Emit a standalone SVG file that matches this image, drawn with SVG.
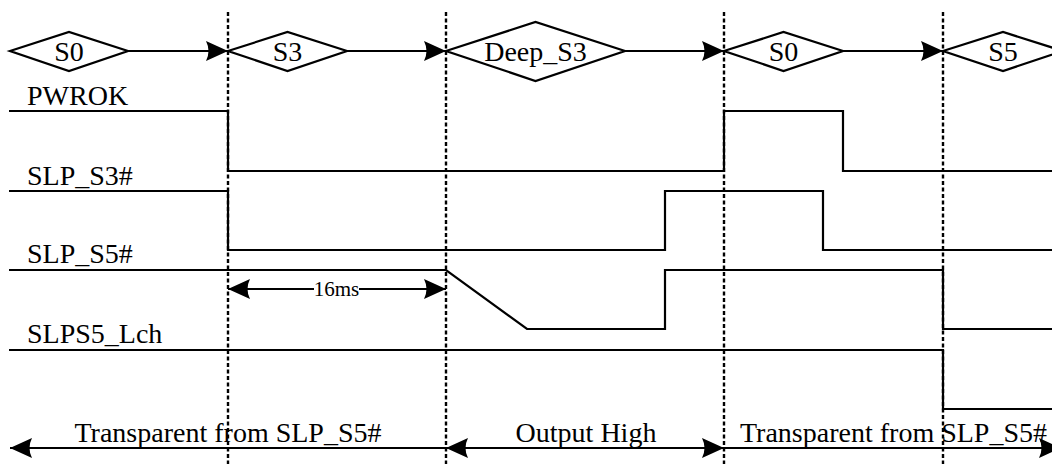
<svg xmlns="http://www.w3.org/2000/svg" width="1052" height="464" viewBox="0 0 1052 464">
  <style>
    .bg { fill: #ffffff; }
    .txt { font-family: "Liberation Serif", "Times New Roman", serif; font-size: 28px; fill: #000; }
    .small { font-size: 21px; }
    .mid { text-anchor: middle; }
    .diamond { fill: #ffffff; stroke: #000; stroke-width: 2.2; stroke-linejoin: miter; }
    .sig { fill: none; stroke: #000; stroke-width: 2.2; stroke-linejoin: miter; }
    .conn { fill: none; stroke: #000; stroke-width: 2.2; }
    .grid { fill: none; stroke: #000; stroke-width: 2.4; stroke-dasharray: 4 2.5; }
  </style>
  <defs>
    <marker id="ah" markerUnits="userSpaceOnUse" markerWidth="24" markerHeight="24" viewBox="0 0 24 24" refX="23" refY="12" orient="auto-start-reverse">
      <path d="M1,2 L23,12 L1,22 Q6,12 1,2 Z" fill="#000"/>
    </marker>
  </defs>
  <rect class="bg" x="0" y="0" width="1052" height="464"/>

  <!-- time markers -->
  <g id="time-markers">
    <line class="grid" x1="228" y1="12" x2="228" y2="464"/>
    <line class="grid" x1="446" y1="12" x2="446" y2="464"/>
    <line class="grid" x1="724" y1="12" x2="724" y2="464"/>
    <line class="grid" x1="943" y1="12" x2="943" y2="464"/>
  </g>

  <!-- connectors -->
  <g id="connectors">
    <line class="conn" x1="128" y1="51" x2="228" y2="51" marker-end="url(#ah)"/>
    <line class="conn" x1="347" y1="51" x2="446" y2="51" marker-end="url(#ah)"/>
    <line class="conn" x1="625" y1="51" x2="724" y2="51" marker-end="url(#ah)"/>
    <line class="conn" x1="843" y1="51" x2="943" y2="51" marker-end="url(#ah)"/>
    <!-- 16ms dimension -->
    <line class="conn" x1="314" y1="289" x2="228" y2="289" marker-end="url(#ah)"/>
    <line class="conn" x1="359" y1="289" x2="446" y2="289" marker-end="url(#ah)"/>
    <!-- bottom phase arrows -->
    <line class="conn" x1="446" y1="448" x2="10" y2="448" marker-end="url(#ah)"/>
    <line class="conn" x1="446" y1="448" x2="724" y2="448" marker-start="url(#ah)" marker-end="url(#ah)"/>
    <line class="conn" x1="724" y1="448" x2="1061" y2="448" marker-end="url(#ah)"/>
  </g>

  <!-- states -->
  <g id="state-s0-a">
    <polygon class="diamond" points="10,51 69,32 128,51 69,71"/>
    <text class="txt mid" x="69" y="61">S0</text>
  </g>
  <g id="state-s3">
    <polygon class="diamond" points="228,51 287.5,32 347,51 287.5,71"/>
    <text class="txt mid" x="287.5" y="61">S3</text>
  </g>
  <g id="state-deep-s3">
    <polygon class="diamond" points="446,51 535.5,22 625,51 535.5,81"/>
    <text class="txt mid" x="535.5" y="61">Deep_S3</text>
  </g>
  <g id="state-s0-b">
    <polygon class="diamond" points="724,51 783.5,32 843,51 783.5,71"/>
    <text class="txt mid" x="783.5" y="61">S0</text>
  </g>
  <g id="state-s5">
    <polygon class="diamond" points="943,51 1003,32 1063,51 1003,71"/>
    <text class="txt mid" x="1003" y="61">S5</text>
  </g>

  <!-- signals -->
  <g id="sig-pwrok">
    <text class="txt" x="27" y="105">PWROK</text>
    <path class="sig" d="M9,111 H228 V171 H724 V111 H843 V171 H1052"/>
  </g>
  <g id="sig-slp-s3">
    <text class="txt" x="27" y="185">SLP_S3#</text>
    <path class="sig" d="M9,191 H228 V250 H665 V191 H823 V250 H1052"/>
  </g>
  <g id="sig-slp-s5">
    <text class="txt" x="27" y="263">SLP_S5#</text>
    <path class="sig" d="M9,270 H446 L527,329 H665 V270 H943 V329 H1052"/>
  </g>
  <g id="sig-slps5-lch">
    <text class="txt" x="27" y="343">SLPS5_Lch</text>
    <path class="sig" d="M9,350 H943 V409 H1052"/>
  </g>

  <!-- labels -->
  <g id="label-16ms">
    <text class="txt small mid" x="336.5" y="296">16ms</text>
  </g>
  <g id="label-phase1">
    <text class="txt mid" x="228" y="442">Transparent from SLP_S5#</text>
  </g>
  <g id="label-phase2">
    <text class="txt mid" x="586" y="442">Output High</text>
  </g>
  <g id="label-phase3">
    <text class="txt" x="740" y="442">Transparent from SLP_S5#</text>
  </g>
</svg>
